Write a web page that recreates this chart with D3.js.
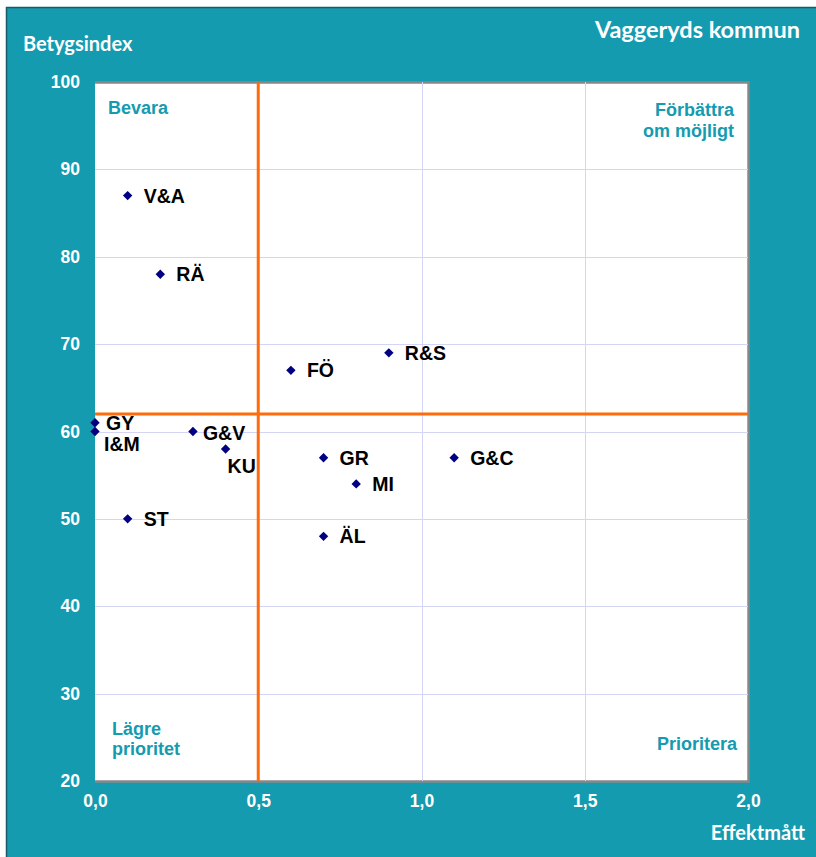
<!DOCTYPE html>
<html>
<head>
<meta charset="utf-8">
<script src="https://cdn.jsdelivr.net/npm/d3@7"></script>
<style>
  body { margin: 0; background: #fff; }
  svg { display: block; }
</style>
</head>
<body>
<div id="chart"></div>
<script>
// data
var codes  = ["V&A", "RÄ", "FÖ", "R&S", "GY", "I&M", "G&V", "KU", "GR", "G&C", "MI", "ST", "ÄL"];
var effekt = [0.1, 0.2, 0.6, 0.9, 0.0, 0.0, 0.3, 0.4, 0.7, 1.1, 0.8, 0.1, 0.7];
var betyg  = [87, 78, 67, 69, 61, 60, 60, 58, 57, 57, 54, 50, 48];
var xTicks = [0, 0.5, 1.0, 1.5, 2.0];
var yTicks = [20, 30, 40, 50, 60, 70, 80, 90, 100];
var xCut = 0.5, yCut = 62;

var W = 816, H = 857;
var teal = "#159bb0";
var svg = d3.select("#chart").append("svg").attr("width", W).attr("height", H);

// background panel
svg.append("rect").attr("x", 6).attr("y", 7).attr("width", W - 6).attr("height", H - 7)
    .attr("fill", teal);
svg.append("path").attr("d", "M6.5," + H + "V7.5H" + W)
    .attr("fill", "none").attr("stroke", "#1d5865").attr("stroke-width", 1.5);

var x = d3.scaleLinear().domain([0, 2]).range([95, 748]);
var y = d3.scaleLinear().domain([20, 100]).range([781, 82]);

// plot area with shadow-ish border
svg.append("rect").attr("x", x(0)).attr("y", y(100)).attr("width", x(2) - x(0)).attr("height", y(20) - y(100))
    .attr("fill", "#fff");
svg.append("path").attr("d", "M" + x(0) + "," + (y(100) + 0.5) + "H" + (x(2) + 0.5) + "V" + (y(20) + 0.5) + "H" + x(0))
    .attr("fill", "none").attr("stroke", "#888").attr("stroke-width", 2.5);

// grid
var grid = svg.append("g").attr("stroke", "#d4d4f4").attr("stroke-width", 1);
grid.selectAll("line.v").data(xTicks.slice(1, -1)).enter().append("line")
    .attr("x1", function(d){ return Math.round(x(d)) + 0.5; })
    .attr("x2", function(d){ return Math.round(x(d)) + 0.5; })
    .attr("y1", y(100)).attr("y2", y(20));
grid.selectAll("line.h").data(yTicks.slice(1, -1)).enter().append("line")
    .attr("x1", x(0)).attr("x2", x(2))
    .attr("y1", function(d){ return Math.round(y(d)) + 0.5; })
    .attr("y2", function(d){ return Math.round(y(d)) + 0.5; });

// axes (labels only)
var fmt = function(d){ return d3.format(".1f")(d).replace(".", ","); };
var xAxis = svg.append("g").attr("transform", "translate(0," + (y(20) + 6) + ")")
    .call(d3.axisBottom(x).tickValues(xTicks).tickFormat(fmt).tickSize(0).tickPadding(8));
var yAxis = svg.append("g").attr("transform", "translate(" + (x(0) - 15) + ",0)")
    .call(d3.axisLeft(y).tickValues(yTicks).tickSize(0).tickPadding(0));
[xAxis, yAxis].forEach(function(a){
    a.select(".domain").remove();
    a.selectAll("text").attr("fill", "#fff")
        .style("font-family", "Liberation Sans, Arial, sans-serif")
        .style("font-weight", "bold").style("font-size", "17.5px");
});

// quadrant cut lines
svg.append("line").attr("x1", x(xCut)).attr("x2", x(xCut)).attr("y1", y(100)).attr("y2", y(20))
    .attr("stroke", "#ff6a0a").attr("stroke-width", 3);
svg.append("line").attr("x1", x(0)).attr("x2", x(2)).attr("y1", y(yCut)).attr("y2", y(yCut))
    .attr("stroke", "#ff6a0a").attr("stroke-width", 3);

// quadrant labels
var ql = svg.append("g").attr("fill", teal)
    .style("font-family", "Liberation Sans, Arial, sans-serif")
    .style("font-weight", "bold").style("font-size", "18px");
ql.append("text").attr("x", 108).attr("y", 114).text("Bevara");
ql.append("text").attr("x", 734).attr("y", 116).attr("text-anchor", "end").text("Förbättra");
ql.append("text").attr("x", 734).attr("y", 137).attr("text-anchor", "end").text("om möjligt");
ql.append("text").attr("x", 112).attr("y", 735).text("Lägre");
ql.append("text").attr("x", 112).attr("y", 755).text("prioritet");
ql.append("text").attr("x", 737).attr("y", 750).attr("text-anchor", "end").text("Prioritera");

// titles
var tt = svg.append("g").attr("fill", "#fff")
    .style("font-family", "Lato, sans-serif").style("font-weight", "bold");
tt.append("text").attr("x", 800).attr("y", 38).attr("text-anchor", "end").style("font-size", "23.5px").text("Vaggeryds kommun");
tt.append("text").attr("x", 23).attr("y", 51).style("font-size", "20px").text("Betygsindex");
tt.append("text").attr("x", 805).attr("y", 840).attr("text-anchor", "end").style("font-size", "20px").text("Effektmått");

// points
var pts = codes.map(function(c, i){ return {code: c, ex: effekt[i], by: betyg[i]}; });
// label offsets (dx, dy) relative to the point
var off = {"GY": [11, 7], "I&M": [9, 19], "KU": [2, 24], "G&V": [10, 8]};

svg.append("g").selectAll("path").data(pts).enter().append("path")
    .attr("d", d3.symbol(d3.symbolSquare, 44))
    .attr("transform", function(d){ return "translate(" + x(d.ex) + "," + y(d.by) + ") rotate(45)"; })
    .attr("fill", "#000080");

svg.append("g").selectAll("text").data(pts).enter().append("text")
    .attr("x", function(d){ return x(d.ex) + (off[d.code] ? off[d.code][0] : 16); })
    .attr("y", function(d){ return y(d.by) + (off[d.code] ? off[d.code][1] : 7); })
    .attr("fill", "#000")
    .style("font-family", "Liberation Sans, Arial, sans-serif")
    .style("font-weight", "bold").style("font-size", "19.5px")
    .text(function(d){ return d.code; });
</script>
</body>
</html>
